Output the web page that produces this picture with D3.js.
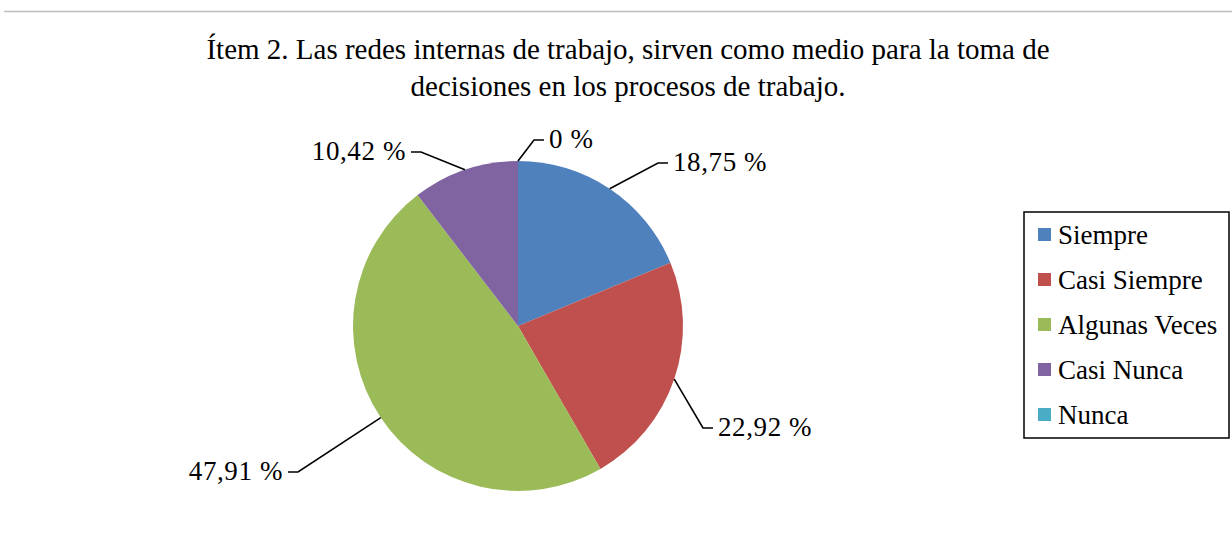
<!DOCTYPE html>
<html><head><meta charset="utf-8">
<script src="https://cdn.jsdelivr.net/npm/d3@7"></script>
<style>body{margin:0;background:#fff;} svg{display:block;}</style>
</head><body>
<svg id="chart" width="1232" height="542"></svg>
<script>
const categories = ["Siempre", "Casi Siempre", "Algunas Veces", "Casi Nunca", "Nunca"];
const values = [18.75, 22.92, 47.91, 10.42, 0];
const valueLabels = ["18,75 %", "22,92 %", "47,91 %", "10,42 %", "0 %"];
const colors = ["#4F81BD", "#C0504D", "#9BBB59", "#8064A2", "#4BACC6"];
const titleLines = ["Ítem 2. Las redes internas de trabajo, sirven como medio para la toma de",
                    "decisiones en los procesos de trabajo."];

// layout: label elbow offsets from pie centre (Excel-style manual label placement)
const labelLayout = [
  {dx: 140, dy: -163, side: 1},
  {dx: 185, dy: 102, side: 1},
  {dx: -220, dy: 146, side: -1},
  {dx: -97, dy: -174, side: -1},
  {dx: 16, dy: -186, side: 1}
];

const svg = d3.select("#chart");
svg.append("line").attr("x1", 4).attr("x2", 1232).attr("y1", 11.5).attr("y2", 11.5)
  .attr("stroke", "#bdbdbd").attr("stroke-width", 1.5);

const serif = "'Liberation Serif','Times New Roman',serif";
svg.append("g").selectAll("text").data(titleLines).join("text")
  .attr("x", 628).attr("y", (d, i) => 59 + i * 37)
  .attr("text-anchor", "middle").attr("font-family", serif).attr("font-size", 29)
  .attr("fill", "#000").text(d => d);

const cx = 518, cy = 326, r = 165;
const pie = d3.pie().sort(null).value(d => d)(values);
const arc = d3.arc().innerRadius(0).outerRadius(r);
const g = svg.append("g").attr("transform", `translate(${cx},${cy})`);
g.selectAll("path").data(pie).join("path")
  .attr("d", arc).attr("fill", (d, i) => colors[i]);

const lab = g.append("g");
pie.forEach((d, i) => {
  const a = (d.startAngle + d.endAngle) / 2;
  const p0 = [r * Math.sin(a), -r * Math.cos(a)];
  const L = labelLayout[i];
  const p1 = [L.dx, L.dy];
  const p2 = [L.dx + L.side * 10, L.dy];
  lab.append("path")
    .attr("d", d3.line()([p0, p1, p2]))
    .attr("fill", "none").attr("stroke", "#000").attr("stroke-width", 1.6);
  lab.append("text")
    .attr("x", p2[0] + L.side * 5).attr("y", p2[1] + 8)
    .attr("text-anchor", L.side > 0 ? "start" : "end")
    .attr("font-family", serif).attr("font-size", 27)
    .attr("letter-spacing", 0.6)
    .text(valueLabels[i]);
});

// legend
const lx = 1024, ly = 212, lw = 205, lh = 226;
const leg = svg.append("g");
leg.append("rect").attr("x", lx).attr("y", ly).attr("width", lw).attr("height", lh)
  .attr("fill", "#fff").attr("stroke", "#000").attr("stroke-width", 1.5);
const ly0 = 235, lstep = 45;
const items = leg.selectAll("g.item").data(categories).join("g")
  .attr("transform", (d, i) => `translate(${lx + 14},${ly0 + i * lstep})`);
items.append("rect").attr("x", 0).attr("y", -7).attr("width", 13).attr("height", 13)
  .attr("fill", (d, i) => colors[i]);
items.append("text").attr("x", 20).attr("y", 9)
  .attr("font-family", serif).attr("font-size", 27).text(d => d);
</script>
</body></html>
